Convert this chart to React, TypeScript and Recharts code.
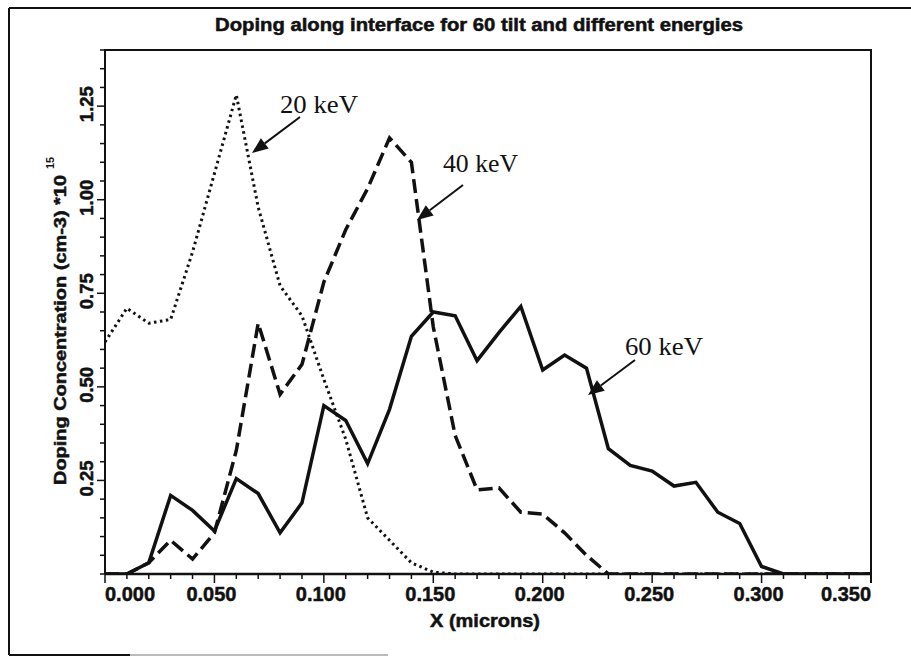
import { LineChart, Line, XAxis, YAxis } from 'recharts';

const xValues = [
  0, 0.01, 0.02, 0.03, 0.04, 0.05, 0.06, 0.07, 0.08, 0.09, 0.1, 0.11,
  0.12, 0.13, 0.14, 0.15, 0.16, 0.17, 0.18, 0.19, 0.2, 0.21, 0.22, 0.23,
  0.24, 0.25, 0.26, 0.27, 0.28, 0.29, 0.3, 0.31, 0.32, 0.33, 0.34, 0.35,
];

const kev20 = [
  0.62, 0.71, 0.67, 0.68, 0.86, 1.07, 1.28, 0.98, 0.77, 0.69, 0.52, 0.36,
  0.15, 0.09, 0.03, 0.005, 0, 0, 0, 0, 0, 0, 0, 0,
  0, 0, 0, 0, 0, 0, 0, 0, 0, 0, 0, 0,
];

const kev40 = [
  0, 0, 0.03, 0.09, 0.04, 0.11, 0.33, 0.67, 0.48, 0.56, 0.78, 0.92,
  1.03, 1.165, 1.1, 0.66, 0.37, 0.225, 0.23, 0.165, 0.16, 0.11, 0.05, 0,
  0, 0, 0, 0, 0, 0, 0, 0, 0, 0, 0, 0,
];

const kev60 = [
  0, 0, 0.03, 0.21, 0.17, 0.115, 0.255, 0.215, 0.11, 0.19, 0.45, 0.41,
  0.295, 0.44, 0.635, 0.7, 0.69, 0.57, 0.645, 0.715, 0.545, 0.585, 0.55, 0.335,
  0.29, 0.275, 0.235, 0.245, 0.165, 0.135, 0.02, 0, 0, 0, 0, 0,
];

const xTicks = xValues;
const yTicks = [
  0, 0.05, 0.1, 0.15, 0.2, 0.25, 0.3, 0.35, 0.4, 0.45, 0.5, 0.55, 0.6, 0.65, 0.7,
  0.75, 0.8, 0.85, 0.9, 0.95, 1, 1.05, 1.1, 1.15, 1.2, 1.25, 1.3, 1.35, 1.4,
];
const yLabels = [0.25, 0.5, 0.75, 1, 1.25];

const data = xValues.map((x, i) => ({ x, e20: kev20[i], e40: kev40[i], e60: kev60[i] }));

const INK = '#111';
const SANS = '"Liberation Sans", Arial, sans-serif';
const SERIF = '"Liberation Serif", "Times New Roman", serif';
// scanned labels look heavier than plain bold
const heavy = { stroke: INK, strokeWidth: 0.5 };

function XTick(props: any) {
  const { x, y, payload, index } = props;
  const v = payload.value;
  const thou = Math.round(v * 1000);
  const major = thou % 50 === 0;
  let anchor = 'middle';
  let tx = x - 3;
  if (index === 0) { anchor = 'start'; tx = x; }
  if (thou === 350) { anchor = 'end'; tx = x; }
  return (
    <g>
      <line x1={x} y1={y} x2={x} y2={y + (major ? 9 : 5)} stroke={INK} strokeWidth={1.5} />
      {major && (
        <text x={tx} y={y + 27} textAnchor={anchor} textLength={50} lengthAdjust="spacingAndGlyphs" fontFamily={SANS} fontWeight="bold" fontSize={20} fill={INK} {...heavy}>
          {v.toFixed(3)}
        </text>
      )}
    </g>
  );
}

function YTick(props: any) {
  const { x, y, payload } = props;
  const v = payload.value;
  const major = yLabels.some(l => Math.abs(l - v) < 1e-6);
  return (
    <g>
      <line x1={x} y1={y} x2={x - (major ? 8 : 5)} y2={y} stroke={INK} strokeWidth={1.5} />
      {major && (
        <text x={93} y={y - 2} transform={`rotate(-90 93 ${y - 2})`} textAnchor="middle" textLength={36} lengthAdjust="spacingAndGlyphs" fontFamily={SANS} fontWeight="bold" fontSize={19} fill={INK} {...heavy}>
          {v.toFixed(2)}
        </text>
      )}
    </g>
  );
}

function Arrow({ x1, y1, x2, y2 }: { x1: number; y1: number; x2: number; y2: number }) {
  const dx = x2 - x1;
  const dy = y2 - y1;
  const len = Math.hypot(dx, dy);
  const ux = dx / len;
  const uy = dy / len;
  const hl = 16;
  const hw = 6.5;
  const bx = x2 - ux * hl;
  const by = y2 - uy * hl;
  const pts = `${x2},${y2} ${bx - uy * hw},${by + ux * hw} ${bx + uy * hw},${by - ux * hw}`;
  return (
    <g>
      <line x1={x1} y1={y1} x2={bx} y2={by} stroke={INK} strokeWidth={2} />
      <polygon points={pts} fill={INK} />
    </g>
  );
}

export default function App() {
  return (
    <div style={{ position: 'absolute', left: 0, top: 0, width: 911, height: 657, background: '#fff' }}>
      <LineChart width={911} height={657} data={data} margin={{ top: 50, right: 40, left: 0, bottom: 0 }}>
        <XAxis
          dataKey="x"
          type="number"
          domain={[0, 0.35]}
          ticks={xTicks}
          interval={0}
          height={83}
          tickSize={0}
          tickMargin={0}
          tickLine={false}
          tick={<XTick />}
          axisLine={{ stroke: INK, strokeWidth: 2.5 }}
          allowDataOverflow
        />
        <YAxis
          type="number"
          domain={[0, 1.4]}
          ticks={yTicks}
          interval={0}
          width={105}
          tickSize={0}
          tickMargin={0}
          tickLine={false}
          tick={<YTick />}
          axisLine={{ stroke: INK, strokeWidth: 2 }}
          allowDataOverflow
        />
        <Line type="linear" dataKey="e20" stroke={INK} strokeWidth={3} strokeDasharray="2.5 3.5" dot={false} isAnimationActive={false} />
        <Line type="linear" dataKey="e40" stroke={INK} strokeWidth={3.5} strokeDasharray="14 6" dot={false} isAnimationActive={false} />
        <Line type="linear" dataKey="e60" stroke={INK} strokeWidth={3.5} dot={false} isAnimationActive={false} />
      </LineChart>
      <svg width={911} height={657} style={{ position: 'absolute', left: 0, top: 0, pointerEvents: 'none' }}>
        <line x1={9} y1={8} x2={911} y2={8} stroke={INK} strokeWidth={2} />
        <line x1={9} y1={8} x2={9} y2={655} stroke={INK} strokeWidth={2} />
        <line x1={9} y1={655} x2={130} y2={655} stroke={INK} strokeWidth={2} />
        <line x1={130} y1={655} x2={388} y2={655} stroke="#bbb" strokeWidth={2} />
        <line x1={104} y1={50} x2={872} y2={50} stroke={INK} strokeWidth={2} />
        <line x1={871} y1={50} x2={871} y2={583} stroke={INK} strokeWidth={2} />
        <text x={215} y={31} textLength={528} lengthAdjust="spacingAndGlyphs" fontFamily={SANS} fontWeight="bold" fontSize={18} fill={INK} {...heavy}>
          Doping along interface for 60 tilt and different energies
        </text>
        <text x={430} y={627} textLength={110} lengthAdjust="spacingAndGlyphs" fontFamily={SANS} fontWeight="bold" fontSize={18} fill={INK} {...heavy}>
          X (microns)
        </text>
        <text x={66} y={485} transform="rotate(-90 66 485)" textLength={310} lengthAdjust="spacingAndGlyphs" fontFamily={SANS} fontWeight="bold" fontSize={17} fill={INK} {...heavy}>
          Doping Concentration (cm-3) *10
        </text>
        <text x={54} y={169} transform="rotate(-90 54 169)" fontFamily={SANS} fontWeight="bold" fontSize={11} fill={INK}>
          15
        </text>
        <text x={280} y={113} textLength={78} lengthAdjust="spacingAndGlyphs" fontFamily={SERIF} fontSize={26} fill={INK}>20 keV</text>
        <Arrow x1={300} y1={117} x2={252} y2={153} />
        <text x={443} y={172} textLength={75} lengthAdjust="spacingAndGlyphs" fontFamily={SERIF} fontSize={26} fill={INK}>40 keV</text>
        <Arrow x1={463} y1={185} x2={417} y2={220} />
        <text x={625} y={355} textLength={78} lengthAdjust="spacingAndGlyphs" fontFamily={SERIF} fontSize={26} fill={INK}>60 keV</text>
        <Arrow x1={635} y1={360} x2={588} y2={395} />
      </svg>
    </div>
  );
}
